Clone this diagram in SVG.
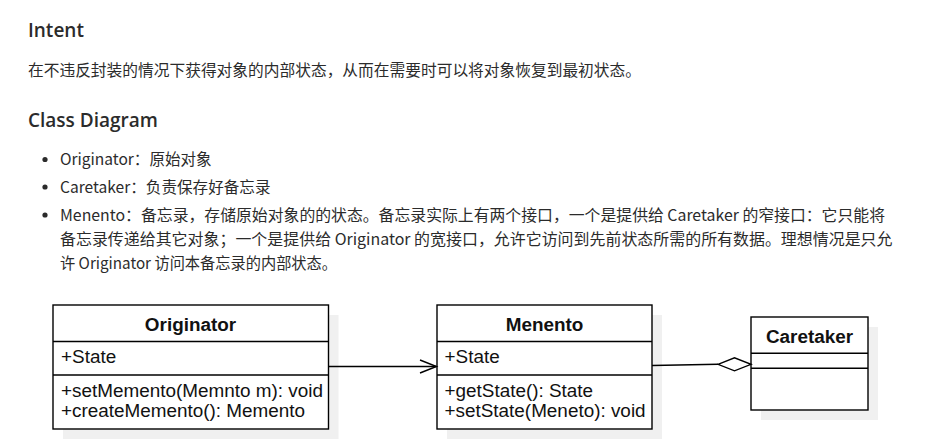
<svg xmlns="http://www.w3.org/2000/svg" width="946" height="446" viewBox="0 0 946 446">
<style>
.h{font-family:"Open Sans","Noto Sans CJK SC",sans-serif;font-weight:600;font-size:19px;fill:#2b2b2b}
.p{font-family:"Noto Sans CJK SC","Noto Sans",sans-serif;font-size:15.5px;fill:#2b2b2b}
.box{fill:#fff;stroke:#000;stroke-width:1.4}
.shadow{fill:#f0f0f0}
.sep{stroke:#000;stroke-width:1.4}
.t{font-family:"Liberation Sans",Arial,sans-serif;font-size:18.9px;fill:#111}
.tb{font-family:"Liberation Sans",Arial,sans-serif;font-size:18.9px;font-weight:bold;fill:#111;text-anchor:middle}
.edge{fill:none;stroke:#000;stroke-width:1.4}
</style>
<rect width="946" height="446" fill="#fff"/>
<g id="text">
<text class="h" x="28" y="37">Intent</text>
<text class="p" x="28" y="76" textLength="613" lengthAdjust="spacingAndGlyphs">在不违反封装的情况下获得对象的内部状态，从而在需要时可以将对象恢复到最初状态。</text>
<text class="h" x="28" y="127">Class Diagram</text>
<circle cx="45" cy="159.5" r="2.6" fill="#2b2b2b"/>
<circle cx="45" cy="187" r="2.6" fill="#2b2b2b"/>
<circle cx="45" cy="215" r="2.6" fill="#2b2b2b"/>
<text class="p" x="60" y="165" textLength="151.5" lengthAdjust="spacingAndGlyphs">Originator：原始对象</text>
<text class="p" x="60" y="192.5" textLength="210.5" lengthAdjust="spacingAndGlyphs">Caretaker：负责保存好备忘录</text>
<text class="p" x="60" y="220.5" textLength="825" lengthAdjust="spacingAndGlyphs">Menento：备忘录，存储原始对象的的状态。备忘录实际上有两个接口，一个是提供给 Caretaker 的窄接口：它只能将</text>
<text class="p" x="60" y="244.5" textLength="832.5" lengthAdjust="spacingAndGlyphs">备忘录传递给其它对象；一个是提供给 Originator 的宽接口，允许它访问到先前状态所需的所有数据。理想情况是只允</text>
<text class="p" x="60" y="268.5" textLength="277" lengthAdjust="spacingAndGlyphs">许 Originator 访问本备忘录的内部状态。</text>
</g>
<g id="Originator">
<rect class="shadow" x="63" y="315" width="275.5" height="124"/>
<rect class="box" x="53" y="305" width="275.5" height="124"/>
<line class="sep" x1="53" y1="341.5" x2="328.5" y2="341.5"/>
<line class="sep" x1="53" y1="375" x2="328.5" y2="375"/>
<text class="tb" x="190.5" y="331">Originator</text>
<text class="t" x="61" y="363.3">+State</text>
<text class="t" x="61" y="396.7">+setMemento(Memnto m): void</text>
<text class="t" x="61" y="416.7">+createMemento(): Memento</text>
</g>
<g id="Memento">
<rect class="shadow" x="447" y="315" width="215" height="124"/>
<rect class="box" x="437" y="305" width="215" height="124"/>
<line class="sep" x1="437" y1="341.5" x2="652" y2="341.5"/>
<line class="sep" x1="437" y1="375" x2="652" y2="375"/>
<text class="tb" x="544.5" y="331">Menento</text>
<text class="t" x="444.5" y="363.3">+State</text>
<text class="t" x="444.5" y="396.7">+getState(): State</text>
<text class="t" x="444.5" y="416.7">+setState(Meneto): void</text>
</g>
<g id="Caretaker">
<rect class="shadow" x="761" y="327" width="117" height="93"/>
<rect class="box" x="751" y="317" width="117" height="93"/>
<line class="sep" x1="751" y1="353.3" x2="868" y2="353.3"/>
<line class="sep" x1="751" y1="368.3" x2="868" y2="368.3"/>
<text class="tb" x="809.5" y="342.7">Caretaker</text>
</g>
<g id="connectors">
<path class="edge" d="M328.5 366.5 H436"/>
<path class="edge" d="M420 360 L436.5 366.5 L420 373"/>
<path class="edge" d="M652 365.5 L718 364.3"/>
<path class="edge" d="M718 364.3 L734.5 357.8 L751 364.3 L734.5 370.8 Z" fill="#fff"/>
</g>
</svg>
